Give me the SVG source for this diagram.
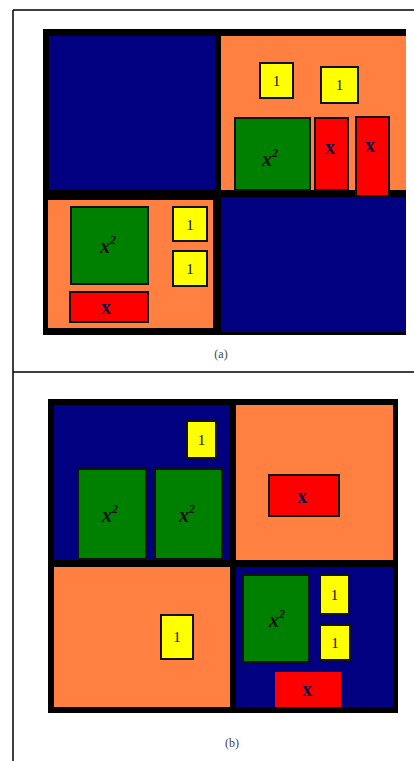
<svg xmlns="http://www.w3.org/2000/svg" width="414" height="761" viewBox="0 0 414 761">
<style>
.navy{fill:#000080}
.orange{fill:#FF8040}
.frame{fill:#000}
.tile{stroke:#111;stroke-width:2}
.green{fill:#008000}
.yellow{fill:#FFFF00}
.red{fill:#FF0000}
.lbl{font-family:"Liberation Serif",serif;text-anchor:middle;fill:#111}
.one{font-size:15px}
.sq{font-size:20px;font-style:italic;font-weight:bold}
.xx{font-size:20px;font-weight:bold;fill:#10104a}
.cap{font-family:"Liberation Serif",serif;font-size:12px;fill:#444;text-anchor:middle}
</style>
<rect width="414" height="761" fill="#fff"/>
<g id="outer-frame" fill="none" stroke="#000" stroke-width="1.5">
<line x1="13" y1="10" x2="13" y2="761"/>
<line x1="13" y1="10" x2="414" y2="10"/>
<line x1="13" y1="372" x2="414" y2="372"/>
</g>

<!-- Panel (a) -->
<g id="panel-a">
<rect class="frame" x="43" y="29" width="363" height="306"/>
<rect class="navy" x="49" y="36" width="166" height="154"/>
<rect class="orange" x="221" y="36" width="185" height="154"/>
<rect class="orange" x="48" y="200" width="165" height="128"/>
<rect class="navy" x="221" y="197" width="185" height="135"/>
</g>
<g id="a-tr-one1"><rect class="yellow tile" x="260" y="63" width="33" height="35"/><text class="lbl one" x="276.5" y="86">1</text></g>
<g id="a-tr-one2"><rect class="yellow tile" x="321" y="67" width="37" height="36"/><text class="lbl one" x="339.5" y="90">1</text></g>
<g id="a-tr-x2"><rect class="green tile" x="235" y="118" width="75" height="72"/><text class="lbl sq" x="270" y="166">x<tspan font-size="12" dy="-9">2</tspan></text></g>
<g id="a-tr-x1"><rect class="red tile" x="315" y="118" width="33" height="72"/><text class="lbl xx" x="330" y="154">x</text></g>
<g id="a-tr-x1b"><rect class="red tile" x="356" y="117" width="33" height="79"/><text class="lbl xx" x="370" y="152">x</text></g>
<g id="a-bl-x2"><rect class="green tile" x="71" y="207" width="77" height="77"/><text class="lbl sq" x="108" y="253">x<tspan font-size="12" dy="-9">2</tspan></text></g>
<g id="a-bl-one1"><rect class="yellow tile" x="173" y="207" width="34" height="34"/><text class="lbl one" x="190" y="230">1</text></g>
<g id="a-bl-one2"><rect class="yellow tile" x="173" y="251" width="34" height="35"/><text class="lbl one" x="190" y="274">1</text></g>
<g id="a-bl-x"><rect class="red tile" x="70" y="292" width="78" height="30"/><text class="lbl xx" x="106" y="314">x</text></g>
<text class="cap" x="221" y="358">(a)</text>

<!-- Panel (b) -->
<g id="panel-b">
<rect class="frame" x="48" y="399" width="350" height="314"/>
<rect class="navy" x="54" y="405" width="176" height="155"/>
<rect class="orange" x="236" y="405" width="157" height="155"/>
<rect class="orange" x="54" y="567" width="176" height="140"/>
<rect class="navy" x="236" y="567" width="157" height="140"/>
</g>
<g id="b-tl-one"><rect class="yellow tile" x="187" y="421" width="29" height="37"/><text class="lbl one" x="201.5" y="445">1</text></g>
<g id="b-tl-x2a"><rect class="green tile" x="78" y="469" width="68" height="90"/><text class="lbl sq" x="110" y="522">x<tspan font-size="12" dy="-9">2</tspan></text></g>
<g id="b-tl-x2b"><rect class="green tile" x="155" y="469" width="67" height="90"/><text class="lbl sq" x="187" y="522">x<tspan font-size="12" dy="-9">2</tspan></text></g>
<g id="b-tr-x"><rect class="red tile" x="269" y="475" width="70" height="41"/><text class="lbl xx" x="302" y="503" font-size="24">x</text></g>
<g id="b-bl-one"><rect class="yellow tile" x="161" y="615" width="32" height="44"/><text class="lbl one" x="177" y="642">1</text></g>
<g id="b-br-x2"><rect class="green tile" x="243" y="575" width="66" height="87"/><text class="lbl sq" x="277" y="627">x<tspan font-size="12" dy="-9">2</tspan></text></g>
<g id="b-br-one1"><rect class="yellow tile" x="320" y="575" width="29" height="39"/><text class="lbl one" x="334.5" y="600">1</text></g>
<g id="b-br-one2"><rect class="yellow tile" x="320" y="625" width="30" height="35"/><text class="lbl one" x="335" y="648">1</text></g>
<g id="b-br-x"><rect class="red" x="275" y="672" width="66" height="35"/><text class="lbl xx" x="307" y="696">x</text></g>
<text class="cap" x="232" y="747">(b)</text>
</svg>
